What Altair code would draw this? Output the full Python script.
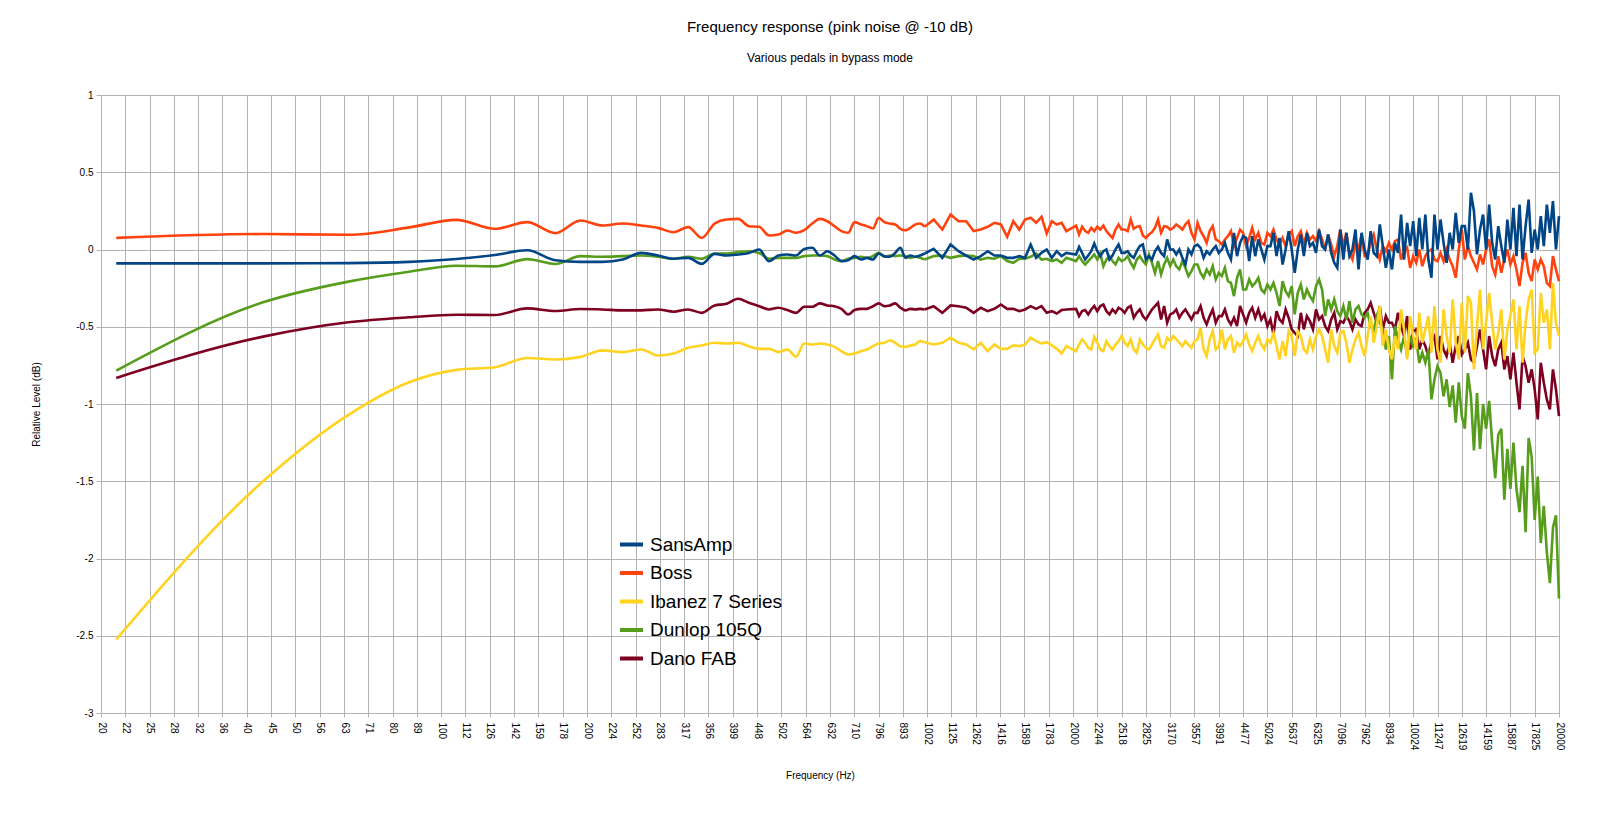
import json

import altair as alt
import pandas as pd


SERIES = ["SansAmp", "Boss", "Ibanez 7 Series", "Dunlop 105Q", "Dano FAB"]
COLORS = ["#004586", "#ff420e", "#ffd320", "#579d1c", "#7e0021"]

TICK_LABELS = ["20", "22", "25", "28", "32", "36", "40", "45", "50", "56",
               "63", "71", "80", "89", "100", "112", "126", "142", "159", "178",
               "200", "224", "252", "283", "317", "356", "399", "448", "502", "564",
               "632", "710", "796", "893", "1002", "1125", "1262", "1416", "1589", "1783",
               "2000", "2244", "2518", "2825", "3170", "3557", "3991", "4477", "5024", "5637",
               "6325", "7096", "7962", "8934", "10024", "11247", "12619", "14159", "15887", "17825",
               "20000"]

# FFT bins below 2 kHz (every bin up to 1 kHz, every 2nd bin above)
LF_FREQ_HZ = [21.5, 43.1, 64.6, 86.1, 107.7, 129.2, 150.7, 172.3, 193.8, 215.3,
              236.9, 258.4, 279.9, 301.5, 323.0, 344.5, 366.1, 387.6, 409.1, 430.7,
              452.2, 473.7, 495.3, 516.8, 538.3, 559.9, 581.4, 602.9, 624.5, 646.0,
              667.5, 689.1, 710.6, 732.1, 753.7, 775.2, 796.7, 818.3, 839.8, 861.3,
              882.9, 904.4, 925.9, 947.5, 969.0, 990.5,
              1033.6, 1076.7, 1119.7, 1162.8, 1205.8, 1248.9, 1292.0, 1335.0, 1378.1, 1421.2,
              1464.2, 1507.3, 1550.4, 1593.4, 1636.5, 1679.6, 1722.6, 1765.7, 1808.8, 1851.8,
              1894.9, 1938.0]
# above 2 kHz: eight readings per grid cell (1/20 decade) up to 20 kHz
HF_FREQ_HZ = [2000 * 10 ** (i / 160) for i in range(1, 161)]

SANSAMP_LF = [-0.090, -0.090, -0.088, -0.080, -0.062, -0.036, -0.005, -0.070, -0.080, -0.080,
              -0.065, -0.022, -0.039, -0.060, -0.054, -0.093, -0.028, -0.039, -0.032, -0.022,
              0.000, -0.076, -0.039, -0.032, -0.039, 0.004, 0.011, -0.039, -0.011, -0.039,
              -0.075, -0.069, -0.043, -0.065, -0.054, -0.065, -0.026, -0.043, -0.047, -0.022,
              0.011, -0.054, -0.039, -0.047, -0.039, -0.026,
              0.004, -0.054, 0.032, -0.011, -0.039, -0.065, -0.043, -0.011, -0.039, -0.039,
              -0.054, -0.054, -0.043, -0.054, 0.032, -0.054, -0.022, 0.000, -0.054, -0.011,
              -0.043, -0.022]
SANSAMP_HF = [-0.032, 0.017, -0.022, -0.065, -0.039, -0.011, 0.039, -0.011,
              -0.043, -0.011, 0.000, -0.065, -0.039, 0.000, 0.032, -0.022,
              -0.022, -0.011, -0.039, -0.054, -0.011, 0.022, 0.032, -0.065,
              -0.043, -0.065, -0.011, 0.017, -0.022, -0.043, 0.065, 0.000,
              0.000, -0.032, 0.000, -0.054, -0.097, 0.000, -0.032, 0.022,
              0.032, 0.011, -0.054, -0.011, -0.032, 0.000, 0.022, -0.022,
              0.000, 0.043, -0.022, -0.065, 0.108, -0.043, 0.043, 0.086,
              0.075, -0.075, 0.086, -0.043, 0.065, 0.000, -0.065, 0.022,
              0.022, 0.108, -0.043, 0.075, -0.097, 0.000, 0.119, 0.000,
              -0.151, 0.000, 0.097, -0.043, 0.108, 0.022, 0.043, -0.022,
              0.129, 0.022, 0.000, 0.097, -0.022, -0.086, -0.119, 0.129,
              -0.065, 0.108, -0.043, 0.000, 0.129, -0.129, 0.108, 0.000,
              -0.065, 0.119, -0.022, -0.043, 0.162, 0.022, -0.119, 0.000,
              -0.129, 0.043, -0.022, 0.226, -0.065, 0.172, 0.022, 0.183,
              -0.043, 0.205, 0.000, 0.226, -0.065, -0.183, 0.226, 0.000,
              0.194, 0.043, -0.086, 0.108, 0.000, 0.237, 0.043, 0.151,
              0.151, 0.000, 0.367, 0.248, -0.032, 0.129, 0.226, 0.000,
              0.291, 0.043, -0.065, 0.151, 0.022, -0.086, 0.194, 0.000,
              0.270, -0.043, 0.291, -0.065, 0.151, 0.323, -0.022, 0.129,
              0.000, 0.216, 0.022, 0.291, 0.108, 0.313, 0.000, 0.216]

BOSS_LF = [0.075, 0.100, 0.095, 0.143, 0.192, 0.134, 0.177, 0.106, 0.188, 0.155,
           0.168, 0.155, 0.140, 0.112, 0.145, 0.075, 0.168, 0.194, 0.198, 0.151,
           0.147, 0.091, 0.097, 0.123, 0.108, 0.125, 0.168, 0.198, 0.183, 0.151,
           0.119, 0.108, 0.177, 0.162, 0.151, 0.136, 0.205, 0.177, 0.168, 0.162,
           0.134, 0.125, 0.140, 0.162, 0.168, 0.147,
           0.194, 0.129, 0.226, 0.183, 0.183, 0.119, 0.129, 0.147, 0.173, 0.162,
           0.082, 0.183, 0.129, 0.194, 0.205, 0.173, 0.211, 0.104, 0.183, 0.162,
           0.173, 0.119]
BOSS_HF = [0.155, 0.097, 0.147, 0.119, 0.108, 0.140, 0.119, 0.147,
           0.129, 0.155, 0.119, 0.097, 0.075, 0.129, 0.162, 0.129,
           0.129, 0.119, 0.194, 0.134, 0.147, 0.151, 0.091, 0.075,
           0.097, 0.112, 0.140, 0.194, 0.108, 0.151, 0.147, 0.129,
           0.140, 0.162, 0.147, 0.129, 0.162, 0.183, 0.108, 0.065,
           0.172, 0.119, 0.086, 0.043, 0.119, 0.151, 0.065, 0.054,
           0.032, 0.065, 0.086, 0.119, 0.022, 0.075, 0.129, 0.108,
           0.022, 0.075, 0.140, 0.065, 0.108, 0.043, 0.032, 0.108,
           0.086, 0.129, 0.065, 0.032, 0.075, 0.022, 0.097, 0.119,
           0.022, 0.086, 0.119, 0.032, 0.108, 0.065, 0.086, 0.054,
           0.119, 0.065, 0.000, 0.097, 0.032, -0.043, 0.022, 0.129,
           0.022, 0.108, -0.022, -0.065, 0.043, 0.000, 0.097, -0.043,
           -0.043, 0.054, 0.097, 0.000, -0.065, 0.022, -0.011, 0.043,
           0.000, 0.054, 0.065, -0.065, -0.011, 0.011, -0.119, -0.043,
           -0.086, 0.000, -0.108, -0.043, -0.011, 0.000, -0.065, -0.075,
           -0.022, -0.075, 0.000, -0.065, -0.108, -0.183, 0.000, 0.129,
           -0.065, 0.022, -0.043, -0.086, -0.129, -0.032, -0.097, 0.000,
           0.065, -0.108, -0.162, -0.043, -0.151, -0.065, 0.000, -0.097,
           -0.043, -0.129, -0.237, -0.086, -0.022, -0.151, -0.205, -0.065,
           -0.129, -0.065, -0.108, -0.216, -0.237, -0.043, -0.129, -0.205]

IBANEZ_LF = [-2.524, -1.500, -1.070, -0.859, -0.779, -0.762, -0.702, -0.712, -0.695, -0.653,
             -0.664, -0.647, -0.686, -0.673, -0.636, -0.621, -0.604, -0.608, -0.604, -0.626,
             -0.643, -0.643, -0.664, -0.647, -0.694, -0.608, -0.615, -0.608, -0.615, -0.630,
             -0.658, -0.679, -0.673, -0.658, -0.647, -0.626, -0.608, -0.604, -0.587, -0.604,
             -0.626, -0.630, -0.621, -0.615, -0.593, -0.600,
             -0.615, -0.604, -0.571, -0.604, -0.615, -0.647, -0.604, -0.658, -0.615, -0.643,
             -0.643, -0.621, -0.626, -0.615, -0.571, -0.593, -0.608, -0.600, -0.621, -0.643,
             -0.673, -0.626]
IBANEZ_HF = [-0.658, -0.615, -0.582, -0.603, -0.636, -0.647, -0.565, -0.603,
             -0.647, -0.658, -0.593, -0.625, -0.647, -0.615, -0.593, -0.560,
             -0.603, -0.625, -0.582, -0.647, -0.668, -0.582, -0.615, -0.636,
             -0.647, -0.615, -0.582, -0.550, -0.625, -0.636, -0.571, -0.593,
             -0.560, -0.582, -0.603, -0.625, -0.593, -0.615, -0.636, -0.593,
             -0.582, -0.507, -0.647, -0.690, -0.582, -0.528, -0.647, -0.625,
             -0.517, -0.647, -0.582, -0.560, -0.668, -0.603, -0.625, -0.593,
             -0.550, -0.615, -0.658, -0.603, -0.560, -0.615, -0.647, -0.582,
             -0.603, -0.539, -0.625, -0.711, -0.593, -0.690, -0.528, -0.560,
             -0.690, -0.528, -0.560, -0.647, -0.668, -0.582, -0.647, -0.560,
             -0.517, -0.560, -0.647, -0.733, -0.517, -0.625, -0.668, -0.539,
             -0.528, -0.603, -0.733, -0.647, -0.582, -0.539, -0.625, -0.690,
             -0.560, -0.431, -0.603, -0.496, -0.366, -0.625, -0.517, -0.647,
             -0.711, -0.560, -0.647, -0.388, -0.517, -0.711, -0.431, -0.560,
             -0.647, -0.410, -0.603, -0.517, -0.431, -0.668, -0.366, -0.647,
             -0.733, -0.388, -0.560, -0.668, -0.323, -0.603, -0.711, -0.345,
             -0.668, -0.302, -0.345, -0.776, -0.496, -0.259, -0.647, -0.474,
             -0.280, -0.474, -0.647, -0.539, -0.388, -0.711, -0.517, -0.431,
             -0.323, -0.647, -0.366, -0.733, -0.474, -0.323, -0.259, -0.668,
             -0.647, -0.280, -0.474, -0.388, -0.647, -0.216, -0.474, -0.560]

DUNLOP_LF = [-0.784, -0.342, -0.208, -0.144, -0.105, -0.109, -0.062, -0.094, -0.043, -0.047,
             -0.043, -0.039, -0.047, -0.060, -0.047, -0.060, -0.026, -0.026, -0.017, -0.011,
             -0.022, -0.060, -0.054, -0.054, -0.054, -0.043, -0.039, -0.039, -0.043, -0.065,
             -0.075, -0.060, -0.054, -0.047, -0.054, -0.043, -0.022, -0.047, -0.039, -0.043,
             -0.039, -0.043, -0.054, -0.047, -0.054, -0.065,
             -0.043, -0.039, -0.054, -0.043, -0.039, -0.043, -0.065, -0.054, -0.060, -0.043,
             -0.075, -0.086, -0.060, -0.060, -0.047, -0.026, -0.065, -0.060, -0.075, -0.065,
             -0.086, -0.054]
DUNLOP_HF = [-0.075, -0.043, -0.075, -0.097, -0.075, -0.054, -0.032, -0.065,
             -0.026, -0.108, -0.065, -0.043, -0.075, -0.097, -0.054, -0.075,
             -0.065, -0.043, -0.086, -0.119, -0.065, -0.043, -0.075, -0.097,
             -0.032, -0.086, -0.151, -0.075, -0.162, -0.097, -0.054, -0.108,
             -0.065, -0.108, -0.129, -0.075, -0.119, -0.172, -0.140, -0.097,
             -0.097, -0.151, -0.183, -0.129, -0.162, -0.108, -0.194, -0.151,
             -0.172, -0.119, -0.205, -0.216, -0.302, -0.183, -0.129, -0.259,
             -0.259, -0.194, -0.237, -0.216, -0.183, -0.259, -0.280, -0.226,
             -0.259, -0.216, -0.280, -0.366, -0.205, -0.270, -0.302, -0.237,
             -0.420, -0.280, -0.226, -0.323, -0.259, -0.302, -0.334, -0.237,
             -0.194, -0.259, -0.431, -0.323, -0.388, -0.323, -0.399, -0.431,
             -0.366, -0.453, -0.334, -0.474, -0.388, -0.366, -0.420, -0.442,
             -0.410, -0.496, -0.528, -0.431, -0.474, -0.517, -0.647, -0.560,
             -0.841, -0.496, -0.582, -0.647, -0.560, -0.690, -0.560, -0.625,
             -0.582, -0.733, -0.668, -0.733, -0.647, -0.970, -0.841, -0.755,
             -0.800, -0.950, -0.840, -1.020, -0.880, -1.120, -0.860, -1.080,
             -1.160, -0.800, -0.950, -1.300, -0.930, -1.290, -1.000, -1.160,
             -0.980, -1.250, -1.480, -1.200, -1.160, -1.620, -1.290, -1.550,
             -1.250, -1.550, -1.700, -1.400, -1.830, -1.220, -1.340, -1.750,
             -1.470, -1.900, -1.660, -1.960, -2.160, -1.800, -1.720, -2.260]

DANO_LF = [-0.831, -0.564, -0.471, -0.439, -0.422, -0.424, -0.381, -0.398, -0.385, -0.388,
           -0.394, -0.394, -0.388, -0.403, -0.388, -0.410, -0.362, -0.351, -0.319, -0.345,
           -0.367, -0.388, -0.377, -0.392, -0.410, -0.371, -0.371, -0.349, -0.362, -0.367,
           -0.384, -0.421, -0.392, -0.384, -0.384, -0.367, -0.349, -0.367, -0.362, -0.349,
           -0.377, -0.394, -0.384, -0.388, -0.384, -0.388,
           -0.367, -0.410, -0.362, -0.367, -0.377, -0.410, -0.377, -0.399, -0.384, -0.356,
           -0.384, -0.384, -0.399, -0.388, -0.367, -0.384, -0.367, -0.410, -0.399, -0.414,
           -0.392, -0.388]
DANO_HF = [-0.384, -0.431, -0.399, -0.392, -0.420, -0.388, -0.366, -0.399,
           -0.366, -0.356, -0.399, -0.420, -0.388, -0.410, -0.377, -0.388,
           -0.410, -0.377, -0.366, -0.442, -0.410, -0.388, -0.431, -0.453,
           -0.420, -0.388, -0.366, -0.345, -0.453, -0.366, -0.474, -0.420,
           -0.410, -0.388, -0.442, -0.410, -0.388, -0.420, -0.453, -0.410,
           -0.410, -0.366, -0.442, -0.485, -0.431, -0.388, -0.474, -0.431,
           -0.431, -0.388, -0.453, -0.485, -0.442, -0.496, -0.366, -0.420,
           -0.474, -0.410, -0.377, -0.442, -0.388, -0.453, -0.420, -0.496,
           -0.453, -0.550, -0.399, -0.453, -0.474, -0.388, -0.442, -0.517,
           -0.539, -0.560, -0.410, -0.517, -0.431, -0.464, -0.517, -0.388,
           -0.453, -0.431, -0.496, -0.528, -0.453, -0.410, -0.517, -0.464,
           -0.474, -0.431, -0.464, -0.517, -0.453, -0.485, -0.496, -0.410,
           -0.388, -0.345, -0.410, -0.474, -0.366, -0.517, -0.431, -0.474,
           -0.474, -0.517, -0.410, -0.496, -0.560, -0.431, -0.647, -0.528,
           -0.517, -0.647, -0.582, -0.625, -0.690, -0.593, -0.560, -0.711,
           -0.560, -0.647, -0.690, -0.603, -0.733, -0.625, -0.560, -0.679,
           -0.647, -0.603, -0.711, -0.733, -0.625, -0.517, -0.647, -0.776,
           -0.560, -0.690, -0.755, -0.647, -0.603, -0.776, -0.690, -0.841,
           -0.668, -0.862, -1.035, -0.690, -0.755, -0.862, -0.776, -0.905,
           -1.100, -0.733, -0.862, -0.970, -1.035, -0.776, -0.905, -1.078]

levels = {
    "SansAmp": SANSAMP_LF + SANSAMP_HF,
    "Boss": BOSS_LF + BOSS_HF,
    "Ibanez 7 Series": IBANEZ_LF + IBANEZ_HF,
    "Dunlop 105Q": DUNLOP_LF + DUNLOP_HF,
    "Dano FAB": DANO_LF + DANO_HF,
}
freqs = LF_FREQ_HZ + HF_FREQ_HZ
SMOOTH_UP_TO = 45   # index of the 990 Hz bin: smooth curve below, plain polyline above

rows = []
for name in SERIES:
    for i, (f, v) in enumerate(zip(freqs, levels[name])):
        if i <= SMOOTH_UP_TO:
            rows.append({"series": name, "part": "low", "freq": f, "level": v})
        if i >= SMOOTH_UP_TO:
            rows.append({"series": name, "part": "high", "freq": f, "level": v})
df = pd.DataFrame(rows)

# gridlines sit on a 1/20-decade grid, labelled with the rounded values
tick_pos = [round(20 * 10 ** (k / 20), 6) for k in range(len(TICK_LABELS))]
x_labels = json.dumps(TICK_LABELS) + "[round(20 * log(datum.value / 20) / LN10)]"

FONT = "Liberation Sans"
GRID = "#b3b3b3"
W, H = 1458, 618

x_enc = alt.X("freq:Q",
              scale=alt.Scale(type="log", domain=[20, 20000], nice=False),
              axis=alt.Axis(values=tick_pos, labelExpr=x_labels, labelAngle=90,
                            labelAlign="left", labelBaseline="middle", labelFlush=False,
                            labelOverlap=False, labelPadding=5, tickSize=4,
                            title="Frequency (Hz)", titleX=719, titleY=62,
                            titleBaseline="middle"))
y_enc = alt.Y("level:Q",
              scale=alt.Scale(domain=[-3, 1], nice=False, zero=False),
              axis=alt.Axis(values=[-3, -2.5, -2, -1.5, -1, -0.5, 0, 0.5, 1],
                            labelExpr="datum.value + ''", tickSize=5, labelPadding=3,
                            title="Relative Level (dB)", titleX=-65, titleY=H / 2,
                            titleAngle=-90, titleAlign="center", titleBaseline="middle"))
color_enc = alt.Color("series:N",
                      scale=alt.Scale(domain=SERIES, range=COLORS),
                      legend=alt.Legend(orient="none", legendX=517, legendY=436,
                                        title=None, symbolType="stroke",
                                        symbolStrokeWidth=4, symbolSize=529,
                                        labelFontSize=19, labelFont=FONT,
                                        labelColor="#000000", rowPadding=4.5,
                                        padding=0, labelOffset=5))


def pedal_line(name, part, interp):
    return alt.Chart(df).transform_filter(
        (alt.datum.series == name) & (alt.datum.part == part)
    ).mark_line(strokeWidth=2.6, interpolate=interp).encode(
        x=x_enc, y=y_enc, color=color_enc)


# SansAmp ends up on top, Dano FAB at the bottom
layers = []
for n in reversed(SERIES):
    layers.append(pedal_line(n, "low", "monotone"))
    layers.append(pedal_line(n, "high", "linear"))

chart = alt.layer(
    *layers,
    title=alt.TitleParams("Frequency response (pink noise @ -10 dB)",
                          subtitle="Various pedals in bypass mode",
                          font=FONT, subtitleFont=FONT, fontSize=15, subtitleFontSize=12,
                          fontWeight="normal", color="#000000", subtitleColor="#000000",
                          anchor="middle", offset=26, subtitlePadding=18),
).properties(
    width=W, height=H, autosize="none",
    padding={"left": 93, "top": 87, "right": 33, "bottom": 92},
).configure_axis(
    labelFont=FONT, titleFont=FONT, labelFontSize=10, titleFontSize=10,
    titleFontWeight="normal", labelColor="#000000", titleColor="#000000",
    gridColor=GRID, gridWidth=1, domainColor=GRID, tickColor=GRID, grid=True,
).configure_view(strokeWidth=0)

chart.save("out.html", embed_options={"renderer": "svg", "actions": False})
